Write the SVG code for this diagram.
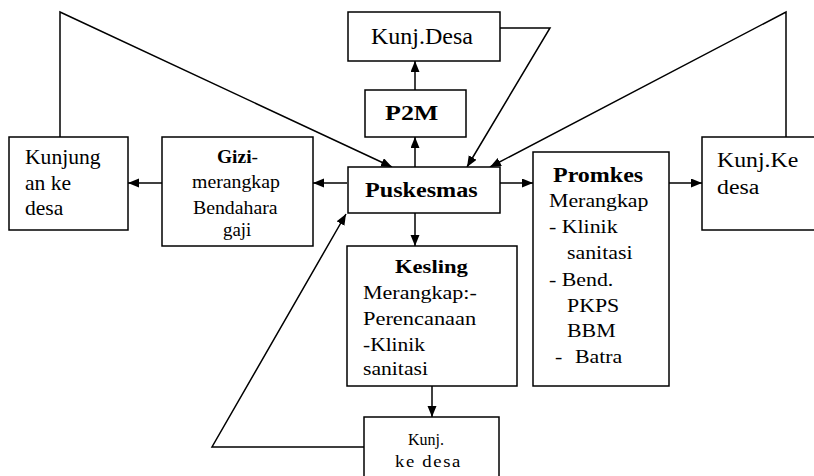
<svg xmlns="http://www.w3.org/2000/svg" width="814" height="476" viewBox="0 0 814 476">
<style>
.box{fill:#fff;stroke:#000;stroke-width:1.5}
.ln{fill:none;stroke:#000;stroke-width:1.5}
text{font-family:'Times New Roman',serif;fill:#000}
.b{font-weight:bold}
</style>
<defs>
<marker id="ah" markerUnits="userSpaceOnUse" markerWidth="12" markerHeight="10" refX="11" refY="4.5" orient="auto">
<path d="M0,0 L11,4.5 L0,9 z" fill="#000"/>
</marker>
</defs>
<rect width="814" height="476" fill="#fff"/>
<g id="connectors">
<polyline class="ln" points="60,137 60,12 392,167" marker-end="url(#ah)"/>
<polyline class="ln" points="786,137 786,12 490,167" marker-end="url(#ah)"/>
<polyline class="ln" points="500,28 550,28 467,167" marker-end="url(#ah)"/>
<line class="ln" x1="415" y1="167" x2="415" y2="137" marker-end="url(#ah)"/>
<line class="ln" x1="415" y1="90" x2="415" y2="61" marker-end="url(#ah)"/>
<line class="ln" x1="347" y1="183" x2="313" y2="183" marker-end="url(#ah)"/>
<line class="ln" x1="162" y1="183" x2="128" y2="183" marker-end="url(#ah)"/>
<line class="ln" x1="500" y1="183" x2="533" y2="183" marker-end="url(#ah)"/>
<line class="ln" x1="669" y1="183" x2="702" y2="183" marker-end="url(#ah)"/>
<line class="ln" x1="415" y1="213" x2="415" y2="246" marker-end="url(#ah)"/>
<line class="ln" x1="432" y1="386" x2="432" y2="417" marker-end="url(#ah)"/>
<polyline class="ln" points="364,447 212,447 346,214" marker-end="url(#ah)"/>
</g>
<g id="kunj-desa-top">
<rect class="box" x="348" y="12" width="152" height="49"/>
<text transform="matrix(1.044 0 0 1 371 44)" font-size="23">Kunj.Desa</text>
</g>
<g id="p2m">
<rect class="box" x="365" y="90" width="101" height="47"/>
<text class="b" transform="matrix(1.3 0 0 1 385 120)" font-size="20">P2M</text>
</g>
<g id="puskesmas">
<rect class="box" x="348" y="167" width="152" height="46"/>
<text class="b" transform="matrix(1.15 0 0 1 365 197)" font-size="21">Puskesmas</text>
</g>
<g id="kunjungan">
<rect class="box" x="9" y="137" width="119" height="93"/>
<text transform="matrix(1.08 0 0 1 25 164)" font-size="20">Kunjung</text>
<text transform="matrix(1.08 0 0 1 25 190)" font-size="20">an ke</text>
<text transform="matrix(1.08 0 0 1 25 215)" font-size="20">desa</text>
</g>
<g id="gizi">
<rect class="box" x="162" y="137" width="151" height="109"/>
<text transform="matrix(1.08 0 0 1 217 163)" font-size="18"><tspan class="b">Gizi</tspan>-</text>
<text transform="matrix(1.1 0 0 1 192 188)" font-size="18">merangkap</text>
<text transform="matrix(1.1 0 0 1 193 214)" font-size="18">Bendahara</text>
<text transform="matrix(1.05 0 0 1 223 236)" font-size="18">gaji</text>
</g>
<g id="promkes">
<rect class="box" x="533" y="152" width="136" height="234"/>
<text class="b" transform="matrix(1.2 0 0 1 553 182)" font-size="20">Promkes</text>
<text transform="matrix(1.15 0 0 1 549 207)" font-size="19">Merangkap</text>
<text transform="matrix(1.15 0 0 1 549 233)" font-size="19">- Klinik</text>
<text transform="matrix(1.15 0 0 1 567 259)" font-size="19">sanitasi</text>
<text transform="matrix(1.15 0 0 1 549 286)" font-size="19">- Bend.</text>
<text transform="matrix(1.15 0 0 1 567 312)" font-size="19">PKPS</text>
<text transform="matrix(1.15 0 0 1 567 337)" font-size="19">BBM</text>
<text transform="matrix(1.15 0 0 1 555 363)" font-size="19">-</text>
<text transform="matrix(1.15 0 0 1 575 363)" font-size="19">Batra</text>
</g>
<g id="kunj-ke-desa-right">
<rect class="box" x="702" y="137" width="114" height="93"/>
<text transform="matrix(1.19 0 0 1 717 167)" font-size="20">Kunj.Ke</text>
<text transform="matrix(1.19 0 0 1 717 194)" font-size="20">desa</text>
</g>
<g id="kesling">
<rect class="box" x="347" y="246" width="170" height="140"/>
<text class="b" transform="matrix(1.19 0 0 1 395 273)" font-size="19">Kesling</text>
<text transform="matrix(1.16 0 0 1 363 299)" font-size="19">Merangkap:-</text>
<text transform="matrix(1.18 0 0 1 363 325)" font-size="19">Perencanaan</text>
<text transform="matrix(1.13 0 0 1 363 351)" font-size="19">-Klinik</text>
<text transform="matrix(1.14 0 0 1 363 375)" font-size="19">sanitasi</text>
</g>
<g id="kunj-ke-desa-bottom">
<rect class="box" x="364" y="417" width="135" height="62"/>
<text transform="matrix(1 0 0 1 408 445)" font-size="16">Kunj.</text>
<text transform="matrix(1.1 0 0 1 395 467)" font-size="17" letter-spacing="1.5">ke desa</text>
</g>
</svg>
